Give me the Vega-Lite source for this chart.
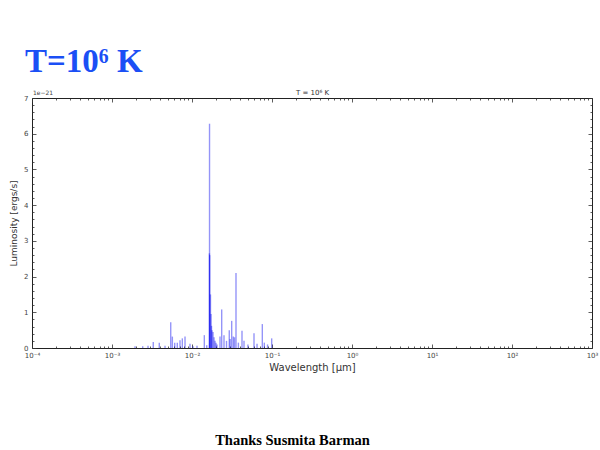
{
  "$schema": "https://vega.github.io/schema/vega-lite/v6.json",
  "width": 560,
  "height": 250,
  "autosize": "none",
  "padding": {"left": 32, "top": 98, "right": 8, "bottom": 102},
  "background": "white",
  "config": {
    "view": {"stroke": "#222", "strokeWidth": 1},
    "axis": {"domain": false, "grid": false, "labelFont": "DejaVu Sans", "labelFontSize": 7, "labelColor": "#444", "titleFont": "DejaVu Sans", "titleFontWeight": "normal", "titleColor": "#333", "tickColor": "#333", "tickWidth": 0.8}
  },
  "title": {"text": "T=10⁶ K", "anchor": "start", "frame": "group", "font": "Liberation Serif", "fontSize": 33, "fontWeight": "bold", "color": "#1b4ff5", "dx": -7, "offset": 10},
  "layer": [
    {
      "data": {"values": [
        {"wl": 0.00194, "lum": 0.05}, {"wl": 0.00242, "lum": 0.05}, {"wl": 0.00282, "lum": 0.06},
        {"wl": 0.00328, "lum": 0.17}, {"wl": 0.0039, "lum": 0.15}, {"wl": 0.0046, "lum": 0.06},
        {"wl": 0.00542, "lum": 0.72}, {"wl": 0.00568, "lum": 0.32}, {"wl": 0.00608, "lum": 0.15},
        {"wl": 0.00655, "lum": 0.15}, {"wl": 0.00708, "lum": 0.22}, {"wl": 0.00757, "lum": 0.27},
        {"wl": 0.00818, "lum": 0.32}, {"wl": 0.00944, "lum": 0.12}, {"wl": 0.0103, "lum": 0.05},
        {"wl": 0.01155, "lum": 0.06}, {"wl": 0.01426, "lum": 0.36}, {"wl": 0.01528, "lum": 0.08},
        {"wl": 0.01656, "lum": 6.28}, {"wl": 0.0165, "lum": 2.65}, {"wl": 0.01664, "lum": 2.6},
        {"wl": 0.01702, "lum": 1.5}, {"wl": 0.01728, "lum": 0.95}, {"wl": 0.01754, "lum": 0.62},
        {"wl": 0.01778, "lum": 0.5}, {"wl": 0.01831, "lum": 0.45}, {"wl": 0.01884, "lum": 0.3},
        {"wl": 0.01939, "lum": 0.2}, {"wl": 0.01995, "lum": 0.15}, {"wl": 0.02054, "lum": 0.1},
        {"wl": 0.02239, "lum": 0.32}, {"wl": 0.0235, "lum": 1.08}, {"wl": 0.02512, "lum": 0.36},
        {"wl": 0.027, "lum": 0.2}, {"wl": 0.02924, "lum": 0.5}, {"wl": 0.03, "lum": 0.25},
        {"wl": 0.03133, "lum": 0.76}, {"wl": 0.03281, "lum": 0.32}, {"wl": 0.034, "lum": 0.3},
        {"wl": 0.03548, "lum": 2.1}, {"wl": 0.038, "lum": 0.15}, {"wl": 0.04217, "lum": 0.48},
        {"wl": 0.04467, "lum": 0.2}, {"wl": 0.05, "lum": 0.1}, {"wl": 0.05957, "lum": 0.41},
        {"wl": 0.065, "lum": 0.12}, {"wl": 0.07568, "lum": 0.67}, {"wl": 0.08017, "lum": 0.15},
        {"wl": 0.088, "lum": 0.1}, {"wl": 0.0991, "lum": 0.27}
      ]},
      "mark": {"type": "rule", "color": "#0000ee", "opacity": 0.42, "strokeWidth": 1.4},
      "encoding": {
        "x": {
          "field": "wl", "type": "quantitative",
          "scale": {"type": "log", "domain": [0.0001, 1000], "nice": false},
          "axis": {
            "orient": "bottom", "title": "Wavelength [μm]",
            "values": [0.0001,0.0002,0.0003,0.0004,0.0005,0.0006,0.0007,0.0008,0.0009,0.001,0.002,0.003,0.004,0.005,0.006,0.007,0.008,0.009,0.01,0.02,0.03,0.04,0.05,0.06,0.07,0.08,0.09,0.1,0.2,0.3,0.4,0.5,0.6,0.7,0.8,0.9,1,2,3,4,5,6,7,8,9,10,20,30,40,50,60,70,80,90,100,200,300,400,500,600,700,800,900,1000],
            "labelExpr": "abs(log(datum.value)/LN10 - round(log(datum.value)/LN10)) < 0.001 ? ['10⁻⁴','10⁻³','10⁻²','10⁻¹','10⁰','10¹','10²','10³'][round(log(datum.value)/LN10)+4] : ''",
            "tickSize": {"condition": {"test": "abs(log(datum.value)/LN10 - round(log(datum.value)/LN10)) < 0.001", "value": -4}, "value": -2},
            "labelPadding": 7, "labelOverlap": false, "labelFlush": false, "labelBound": false,
            "titleFontSize": 10, "titlePadding": 2
          }
        },
        "y": {
          "field": "lum", "type": "quantitative",
          "scale": {"domain": [0, 7], "nice": false},
          "axis": {
            "orient": "left", "title": "Luminosity [ergs/s]",
            "values": [0,0.2,0.4,0.6,0.8,1,1.2,1.4,1.6,1.8,2,2.2,2.4,2.6,2.8,3,3.2,3.4,3.6,3.8,4,4.2,4.4,4.6,4.8,5,5.2,5.4,5.6,5.8,6,6.2,6.4,6.6,6.8,7],
            "labelExpr": "abs(datum.value - round(datum.value)) < 0.001 ? format(datum.value, 'd') : ''",
            "tickSize": {"condition": {"test": "abs(datum.value - round(datum.value)) < 0.001", "value": -4}, "value": -2},
            "labelPadding": 8, "labelOverlap": false, "labelFlush": false,
            "titleFontSize": 9, "titlePadding": 5
          }
        },
        "y2": {"datum": 0}
      }
    },
    {
      "data": {"values": [{"wl": 0.0001, "lum": 7, "label": "1e−21"}]},
      "mark": {"type": "text", "align": "left", "baseline": "bottom", "dx": 1, "dy": -2, "fontSize": 6, "font": "DejaVu Sans", "color": "#444"},
      "encoding": {
        "x": {
          "field": "wl", "type": "quantitative",
          "scale": {"type": "log", "domain": [0.0001, 1000], "nice": false},
          "axis": {
            "orient": "top", "title": "T = 10⁶ K", "labels": false,
            "values": [0.0001,0.0002,0.0003,0.0004,0.0005,0.0006,0.0007,0.0008,0.0009,0.001,0.002,0.003,0.004,0.005,0.006,0.007,0.008,0.009,0.01,0.02,0.03,0.04,0.05,0.06,0.07,0.08,0.09,0.1,0.2,0.3,0.4,0.5,0.6,0.7,0.8,0.9,1,2,3,4,5,6,7,8,9,10,20,30,40,50,60,70,80,90,100,200,300,400,500,600,700,800,900,1000],
            "tickSize": {"condition": {"test": "abs(log(datum.value)/LN10 - round(log(datum.value)/LN10)) < 0.001", "value": -4}, "value": -2},
            "titleFontSize": 7, "titlePadding": 2
          }
        },
        "y": {
          "field": "lum", "type": "quantitative",
          "scale": {"domain": [0, 7], "nice": false},
          "axis": {
            "orient": "right", "labels": false,
            "values": [0,0.2,0.4,0.6,0.8,1,1.2,1.4,1.6,1.8,2,2.2,2.4,2.6,2.8,3,3.2,3.4,3.6,3.8,4,4.2,4.4,4.6,4.8,5,5.2,5.4,5.6,5.8,6,6.2,6.4,6.6,6.8,7],
            "tickSize": {"condition": {"test": "abs(datum.value - round(datum.value)) < 0.001", "value": -4}, "value": -2},
            "title": "Thanks Susmita Barman", "titleAngle": 0, "titleX": -300, "titleY": 346,
            "titleFont": "Liberation Serif", "titleFontSize": 14.5, "titleFontWeight": "bold", "titleColor": "black",
            "titleAlign": "center", "titleBaseline": "alphabetic"
          }
        },
        "text": {"field": "label"}
      }
    }
  ],
  "resolve": {"scale": {"x": "independent", "y": "independent"}, "axis": {"x": "independent", "y": "independent"}}
}
